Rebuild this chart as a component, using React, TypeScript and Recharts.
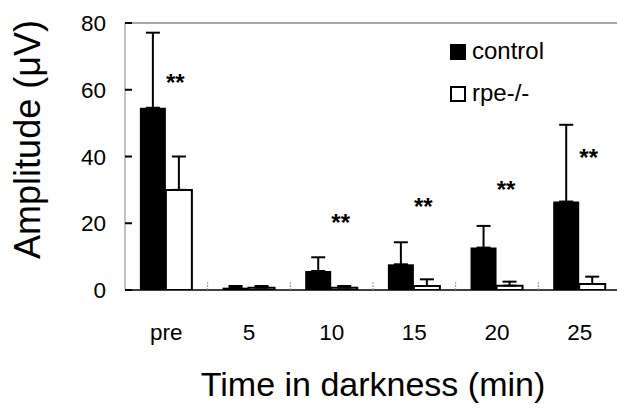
import React from 'react';
import {
  ComposedChart,
  Bar,
  XAxis,
  YAxis,
  ErrorBar,
  ReferenceDot,
  ReferenceLine,
  Legend,
} from 'recharts';

// ---- data ----
const categories = ['pre', '5', '10', '15', '20', '25'];
const controlMean = [54.6, 0.7, 5.7, 7.7, 12.7, 26.5];
const controlSem = [22.5, 0.5, 4.1, 6.6, 6.5, 23.0];
const rpeMean = [30.0, 0.7, 0.7, 1.2, 1.3, 1.8];
const rpeSem = [10.0, 0.5, 0.5, 2.0, 1.2, 2.2];
const yTicks = [0, 20, 40, 60, 80];
const sigCategories = ['pre', '10', '15', '20', '25'];
const sigLevels = [63.3, 21.3, 26.2, 31.1, 40.7];
const sigText = '**';
const seriesNames = ['control', 'rpe-/-'];
const xTitle = 'Time in darkness (min)';
const yTitle = 'Amplitude (\u03BCV)';

const data = categories.map((c, i) => ({
  cat: c,
  control: controlMean[i],
  controlErr: [0, controlSem[i]],
  rpe: rpeMean[i],
  rpeErr: [0, rpeSem[i]],
}));

const FONT = '"Liberation Sans", Arial, Helvetica, sans-serif';
const Y_TICK_MARGIN = 19;
const X_TICK_MARGIN = 34;

const YTick = (props: any) => {
  const { x, y, payload } = props;
  const axisX = x + Y_TICK_MARGIN;
  return (
    <g>
      <line x1={axisX} x2={axisX + 7} y1={y} y2={y} stroke="#000" strokeWidth={2} />
      <text
        x={x}
        y={y}
        dy="0.36em"
        textAnchor="end"
        fontFamily={FONT}
        fontSize={22.5}
        fill="#000"
      >
        {payload.value}
      </text>
    </g>
  );
};

const XTick = (props: any) => {
  const { x, y, payload, index } = props;
  const axisY = y - X_TICK_MARGIN;
  const off = payload.offset || 0;
  return (
    <g>
      {index > 0 && (
        <line
          x1={x - off}
          x2={x - off}
          y1={axisY - 8}
          y2={axisY}
          stroke="#999"
          strokeWidth={1}
          strokeDasharray="2 1"
        />
      )}
      <text x={x} y={y + 16} textAnchor="middle" fontFamily={FONT} fontSize={22.5} fill="#000">
        {payload.value}
      </text>
    </g>
  );
};

const XLabel = (props: any) => {
  const vb = props.viewBox || {};
  const cx = vb.x + vb.width / 2;
  return (
    <text x={cx} y={396} textAnchor="middle" fontFamily={FONT} fontSize={34} fill="#000">
      {xTitle}
    </text>
  );
};

const YLabel = (props: any) => {
  const vb = props.viewBox || {};
  const cx = 40;
  const cy = vb.y + vb.height / 2 - 17;
  return (
    <text
      x={cx}
      y={cy}
      textAnchor="middle"
      transform={`rotate(-90, ${cx}, ${cy})`}
      fontFamily={FONT}
      fontSize={36}
      fill="#000"
    >
      {yTitle}
    </text>
  );
};

const LegendContent = (props: any) => {
  const payload = props.payload || [];
  return (
    <svg width={640} height={409} style={{ position: 'absolute', left: 0, top: 0, pointerEvents: 'none' }}>
      {payload.map((entry: any, i: number) => {
        const top = 45 + i * 42;
        return (
          <g key={entry.value}>
            <rect
              x={451}
              y={top}
              width={14}
              height={14}
              fill={entry.color}
              stroke="#000"
              strokeWidth={2}
            />
            <text x={472} y={top + 14} fontFamily={FONT} fontSize={24} fill="#000">
              {entry.value}
            </text>
          </g>
        );
      })}
    </svg>
  );
};

const StarShape = (p: any) => (
  <text
    x={p.cx + 9}
    y={p.cy + 12}
    textAnchor="middle"
    fontFamily={FONT}
    fontWeight="bold"
    fontSize={24}
    fill="#000"
  >
    {sigText}
  </text>
);

export default function App() {
  return (
    <div
      style={{
        position: 'absolute',
        left: 0,
        top: 0,
        width: 617,
        height: 409,
        overflow: 'hidden',
        background: '#fff',
      }}
    >
      <ComposedChart
        width={640}
        height={409}
        data={data}
        margin={{ top: 23, right: 19, bottom: 0, left: 0 }}
        barCategoryGap="18%"
        barGap={0}
      >
        <ReferenceLine y={80} stroke="#8a8a8a" strokeWidth={1.5} />
        <XAxis
          dataKey="cat"
          height={119}
          interval={0}
          axisLine={{ stroke: '#000', strokeWidth: 1.5 }}
          tickLine={false}
          tickSize={0}
          tickMargin={X_TICK_MARGIN}
          tick={<XTick />}
          label={<XLabel />}
        />
        <YAxis
          width={125}
          domain={[0, 80]}
          ticks={yTicks}
          allowDataOverflow
          axisLine={{ stroke: '#888', strokeWidth: 1 }}
          tickLine={false}
          tickSize={0}
          tickMargin={Y_TICK_MARGIN}
          tick={<YTick />}
          label={<YLabel />}
        />
        <Bar dataKey="control" name={seriesNames[0]} fill="#000" isAnimationActive={false}>
          <ErrorBar dataKey="controlErr" width={7} strokeWidth={2} stroke="#000" direction="y" />
        </Bar>
        <Bar
          dataKey="rpe"
          name={seriesNames[1]}
          fill="#fff"
          stroke="#000"
          strokeWidth={2}
          isAnimationActive={false}
        >
          <ErrorBar dataKey="rpeErr" width={7} strokeWidth={2} stroke="#000" direction="y" />
        </Bar>
        {sigCategories.map((c, i) => (
          <ReferenceDot
            key={c}
            x={c}
            y={sigLevels[i]}
            r={0}
            ifOverflow="visible"
            shape={StarShape}
          />
        ))}
        <Legend
          layout="vertical"
          align="center"
          verticalAlign="middle"
          wrapperStyle={{ position: 'absolute', left: 0, top: 0, width: 640, height: 409 }}
          content={<LegendContent />}
        />
      </ComposedChart>
    </div>
  );
}
